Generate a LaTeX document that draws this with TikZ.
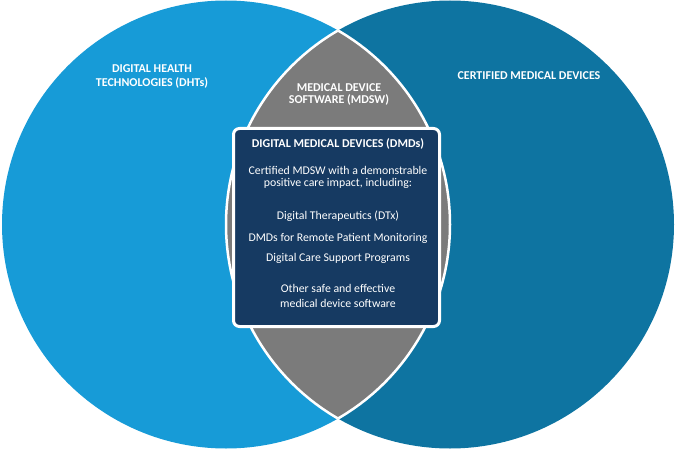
\documentclass[tikz,border=0pt]{standalone}
\usepackage{fontspec}
\setmainfont{Carlito}
\definecolor{dhtblue}{HTML}{179BD7}
\definecolor{cmdblue}{HTML}{0E74A1}
\definecolor{lensgrey}{HTML}{7B7B7B}
\definecolor{boxnavy}{HTML}{163A62}
\tikzset{
  lbl/.style={text=white, font=\fontsize{12}{14}\selectfont\bfseries, anchor=base, inner sep=0pt},
  txt/.style={text=white, font=\fontsize{11.8}{14}\selectfont, anchor=base, inner sep=0pt},
  dmdbox/.style={draw=white, line width=3pt, fill=boxnavy, rounded corners=6pt, minimum width=206pt, minimum height=198pt, inner sep=0pt}
}
\begin{document}
\begin{tikzpicture}[x=1pt,y=-1pt]
\useasboundingbox (0,0) rectangle (677,449);
\coordinate (L) at (226,224.5);
\coordinate (R) at (450,224.5);
\fill[dhtblue] (L) circle[radius=224];
\fill[cmdblue] (R) circle[radius=224];
\begin{scope}
  \clip (L) circle[radius=224];
  \fill[lensgrey] (R) circle[radius=224];
  \draw[white, line width=2.5pt] (R) circle[radius=224];
\end{scope}
\begin{scope}
  \clip (R) circle[radius=224];
  \draw[white, line width=2.5pt] (L) circle[radius=224];
\end{scope}
\node[dmdbox] (box) at (336.5,227.5) {};
\node[lbl] (dht1) at (152,73) {DIGITAL HEALTH};
\node[lbl] (dht2) at (152,87) {TECHNOLOGIES (DHTs)};
\node[lbl] (cmd) at (529,80) {CERTIFIED MEDICAL DEVICES};
\node[lbl] (md1) at (339,92) {MEDICAL DEVICE};
\node[lbl] (md2) at (339,104) {SOFTWARE (MDSW)};
\node[lbl] (dmd) at (338,148) {DIGITAL MEDICAL DEVICES (DMDs)};
\node[txt] (t1) at (338,175) {Certified MDSW with a demonstrable};
\node[txt] (t2) at (338,187) {positive care impact, including:};
\node[txt] (t3) at (338,219) {Digital Therapeutics (DTx)};
\node[txt] (t4) at (338,241) {DMDs for Remote Patient Monitoring};
\node[txt] (t5) at (338,261) {Digital Care Support Programs};
\node[txt] (t6) at (338,292) {Other safe and effective};
\node[txt] (t7) at (338,307) {medical device software};
\end{tikzpicture}
\end{document}
